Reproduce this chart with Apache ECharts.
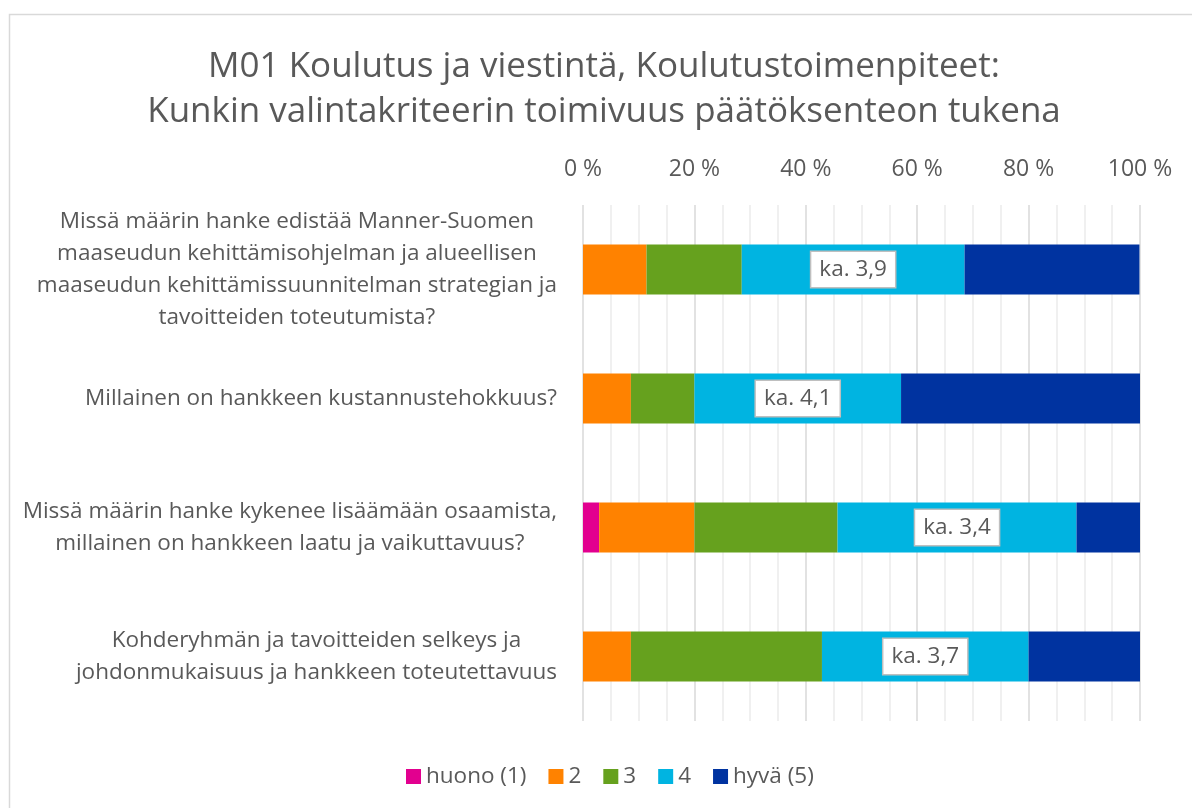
<!DOCTYPE html>
<html>
<head>
<meta charset="utf-8">
<script src="https://cdn.jsdelivr.net/npm/echarts@6.0.0/dist/echarts.min.js"></script>
<style>
  html, body { margin: 0; padding: 0; background: #fff; }
  #chart { width: 1192px; height: 808px; }
</style>
</head>
<body>
<div id="chart"></div>
<script>
const questions = [
  'Missä määrin hanke edistää Manner-Suomen\nmaaseudun kehittämisohjelman ja alueellisen\nmaaseudun kehittämissuunnitelman strategian ja\ntavoitteiden toteutumista?',
  'Millainen on hankkeen kustannustehokkuus?',
  'Missä määrin hanke kykenee lisäämään osaamista,\nmillainen on hankkeen laatu ja vaikuttavuus?',
  'Kohderyhmän ja tavoitteiden selkeys ja\njohdonmukaisuus ja hankkeen toteutettavuus',
]
const seriesNames = ['huono (1)', '2', '3', '4', 'hyvä (5)']
const colors = ['#e2008f', '#ff8200', '#66a11e', '#00b4e1', '#0033a0']

// shares in percent, one array per answer level
const huono = [0, 0, 2.9, 0]
const two = [11.4, 8.6, 17.1, 8.6]
const three = [17.1, 11.4, 25.7, 34.3]
const four = [40.0, 37.1, 42.9, 37.1]
const hyva = [31.4, 42.9, 11.4, 20.0]
const averages = ['3,9', '4,1', '3,4', '3,7']

const xTicks = [0, 20, 40, 60, 80, 100]

const font = 'Open Sans'
const textColor = '#595959'

const chart = echarts.init(document.getElementById('chart'))

const values = [huono, two, three, four, hyva]

const option = {
  backgroundColor: '#fff',
  textStyle: { fontFamily: font },
  graphic: [
    {
      type: 'rect',
      shape: { x: 9.5, y: 14.5, width: 1300, height: 900 },
      style: { fill: 'none', stroke: '#d9d9d9', lineWidth: 1.5 },
      silent: true,
    },
  ],
  title: {
    text: 'M01 Koulutus ja viestintä, Koulutustoimenpiteet:\nKunkin valintakriteerin toimivuus päätöksenteon tukena',
    left: 604,
    textAlign: 'center',
    top: 45,
    padding: 0,
    textStyle: {
      fontFamily: font,
      fontSize: 35,
      fontWeight: 'normal',
      color: textColor,
      lineHeight: 45,
    },
  },
  legend: {
    bottom: 20,
    left: 406,
    padding: 0,
    icon: 'rect',
    itemWidth: 15,
    itemHeight: 15,
    itemGap: 22,
    textStyle: { fontFamily: font, fontSize: 22.5, color: textColor },
    data: seriesNames,
  },
  grid: {
    left: 583,
    right: 52,
    top: 205,
    bottom: 87,
  },
  xAxis: {
    type: 'value',
    position: 'top',
    min: 0,
    max: 100,
    interval: 20,
    axisLine: { show: false },
    axisTick: { show: false },
    axisLabel: {
      formatter: (v) => (xTicks.includes(v) ? v + ' %' : ''),
      fontSize: 23,
      color: textColor,
      margin: 24,
    },
    splitLine: { show: true, lineStyle: { color: '#d9d9d9', width: 1.5 } },
    minorTick: { show: false, splitNumber: 4 },
    minorSplitLine: { show: true, lineStyle: { color: '#ececec', width: 1.5 } },
  },
  yAxis: {
    type: 'category',
    inverse: true,
    data: questions,
    axisLine: { show: false },
    axisTick: { show: false },
    axisLabel: {
      margin: 26,
      align: 'right',
      formatter: (v) => v.split('\n').map((l) => '{c|' + l + '}').join('\n'),
      rich: {
        c: {
          align: 'center',
          fontFamily: font,
          fontSize: 22.5,
          lineHeight: 32,
          color: textColor,
        },
      },
    },
  },
  series: seriesNames.map((name, i) => ({
    name,
    type: 'bar',
    stack: 'total',
    barWidth: 50,
    itemStyle: { color: colors[i] },
    label:
      i === 3
        ? {
            show: true,
            position: 'inside',
            formatter: (p) => 'ka. ' + averages[p.dataIndex],
            backgroundColor: '#fff',
            borderColor: '#bfbfbf',
            borderWidth: 1.5,
            padding: [7, 8, 5, 8],
            fontFamily: font,
            fontSize: 22.5,
            color: textColor,
          }
        : { show: false },
    data: values[i],
  })),
}

chart.setOption(option)
</script>
</body>
</html>
